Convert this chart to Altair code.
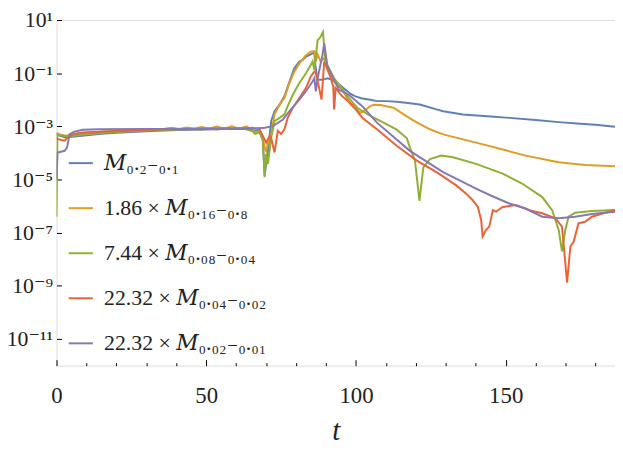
import altair as alt
import pandas as pd

# ---- legend labels and colours (Mathematica default palette) ----
labels = [
    "𝑀₀.₂₋₀.₁",
    "1.86 × 𝑀₀.₁₆₋₀.₈",
    "7.44 × 𝑀₀.₀₈₋₀.₀₄",
    "22.32 × 𝑀₀.₀₄₋₀.₀₂",
    "22.32 × 𝑀₀.₀₂₋₀.₀₁",
]
colors = ["#5E81B5", "#E19C24", "#8FB032", "#EB6235", "#8778B3"]

# ---- series: t and log10(value) ----
blue_t = [0, 1, 3, 6, 10, 15, 20, 30, 40, 50, 55, 60, 63, 65.6, 67.8, 68.9, 69.5, 70.6, 71.7, 72.8,
          74.5, 76.1, 77.8, 79.4, 81.1, 82.2, 83.3, 84.4, 85.5, 86.1, 86.4, 87.2, 88.8, 90.5, 92.1,
          93.8, 96.5, 98.2, 99.8, 102.1, 104.8, 107.0, 110.3, 113.6, 115.9, 118.0, 121.3, 126.9,
          129.1, 135.7, 145, 151.2, 160, 167.7, 175, 180, 186.5]
blue_log = [-3.30, -3.35, -3.42, -3.38, -3.33, -3.28, -3.24, -3.18, -3.14, -3.12, -3.10, -3.10, -3.10,
            -3.15, -3.17, -3.50, -4.85, -3.92, -2.80, -2.43, -2.18, -1.87, -1.31, -0.81, -0.56, -0.50,
            -0.38, -0.32, -0.25, -0.22, -0.69, -1.25, -1.25, -1.19, -1.25, -1.37, -1.62, -1.78, -1.87,
            -1.95, -2.00, -2.05, -2.05, -2.07, -2.10, -2.13, -2.18, -2.36, -2.43, -2.55, -2.63, -2.68,
            -2.76, -2.84, -2.90, -2.94, -3.01]

orange_t = [0, 1, 3, 6, 10, 15, 20, 30, 36, 38.5, 41, 43.5, 46, 48.5, 51, 53.5, 56, 58.5, 61,
            63.5, 65.6, 66.3, 67.8, 68.9, 69.5, 70.0, 70.6, 71.7, 72.8, 74.5,
            76.1, 77.8, 79.4, 81.1, 83.3, 84.9, 86.1, 86.6, 87.2, 88.2, 89.4, 90.5, 91.6, 92.7, 94.3,
            95.4, 98.2, 101.5, 102.6, 104.8, 106, 108.1, 112.5, 118, 120.3, 124.7, 129.1, 140.1, 150,
            156.7, 167.7, 176.5, 186.5]
orange_log = [-3.25, -3.30, -3.35, -3.30, -3.25, -3.20, -3.17, -3.12, -3.09, -3.05, -3.10, -3.04,
              -3.09, -3.02, -3.09, -3.01, -3.09, -3.00, -3.09, -3.00,
              -3.17, -3.25, -3.17, -3.42, -3.80, -3.92, -3.61, -3.29, -2.55, -2.18, -1.93, -1.37,
              -0.94, -0.63, -0.32, -0.19, -0.17, -0.56, -0.30, -0.56, -0.44, -0.81, -1.00, -1.31,
              -1.50, -1.60, -2.18, -2.49, -2.43, -2.24, -2.19, -2.20, -2.30, -2.70, -2.85, -3.11,
              -3.30, -3.61, -3.90, -4.10, -4.35, -4.45, -4.50]

green_t = [0, 0.3, 1, 3, 6, 10, 15, 20, 30, 40, 46, 48.5, 51, 53.5, 56, 58.5, 61, 63.5, 65.6, 66.3,
           67.8, 68.9, 69.5, 70.0, 70.6, 71.7, 72.8, 74.5, 76.1, 77.2, 78.9, 81.1, 83.3, 84.9, 85.5,
           86.1, 87.2, 88.2, 89.0, 89.7, 91.0, 92.7, 94.3, 97.6, 100.4, 104.8, 109.2, 113.6, 117.0,
           118.0, 119.7, 121.2, 122.5, 124.7, 128.5, 132.4, 140.1, 149.0, 155.6, 162.2, 165.5,
           167.7, 168.8, 169.9, 171.0, 173.2, 178.8, 186.5]
green_log = [-6.40, -3.30, -3.33, -3.36, -3.35, -3.30, -3.25, -3.21, -3.16, -3.12, -3.10, -3.13,
             -3.08, -3.12, -3.07, -3.11, -3.06, -3.10, -3.20, -3.28, -3.23, -3.54,
             -4.91, -4.04, -4.41, -3.42, -2.80, -2.68, -2.55, -2.24, -1.81, -1.37, -1.00, -0.69,
             -0.56, -0.87, 0.24, 0.37, 0.55, -0.56, -0.81, -1.19, -1.43, -1.93, -2.30, -2.61,
             -2.86, -3.12, -3.45, -3.79, -4.29, -5.80, -4.54, -4.23, -4.10, -4.16, -4.41, -4.78,
             -5.16, -5.66, -6.15, -6.90, -7.70, -6.90, -6.40, -6.25, -6.18, -6.15]

red_t = [0, 0.5, 2.7, 4.4, 6, 8.7, 14.3, 20, 30, 40, 50, 55, 60, 64.0, 65.6, 67.8, 68.9, 70.0, 71.2,
         71.7, 72.8, 73.9, 75.0, 76.1, 77.2, 78.9, 81.1, 83.3, 84.9, 86.1, 86.6, 87.7, 88.5, 89.4,
         90.5, 91.6, 92.4, 92.7, 93.2, 95.4, 98.7, 102.1, 107.0, 113.6, 120.3, 126.9, 133.5, 136.8,
         139.0, 140.7, 141.8, 142.3, 143.4, 144.5, 145.7, 146.8, 149.0, 153.4, 157.8, 162.2, 166.6,
         168.8, 170.5, 171.6, 172.7, 174.3, 176.5, 178.8, 183.2, 186.5]
red_log = [-3.45, -3.48, -3.54, -3.35, -3.29, -3.23, -3.20, -3.17, -3.13, -3.10, -3.08, -3.07, -3.07,
           -3.07, -3.05, -3.11, -3.36, -3.61, -3.36, -3.45, -3.98, -3.17, -3.29, -3.11, -2.68, -2.30,
           -1.93, -1.56, -1.12, -0.94, -1.00, -1.56, -1.99, -0.56, -0.87, -1.19, -1.50, -2.36, -1.56,
           -1.87, -2.18, -2.68, -3.11, -3.73, -4.29, -4.72, -5.22, -5.53, -5.78, -6.03, -6.52, -7.14,
           -6.90, -6.77, -6.15, -6.21, -6.03, -5.96, -6.15, -6.27, -6.46, -6.77, -8.88, -7.52, -7.33,
           -6.65, -6.59, -6.40, -6.25, -6.15]

purple_t = [0, 0.3, 0.5, 2.7, 3.5, 4.4, 6.0, 8.7, 14.3, 30, 50, 64, 66, 69.5, 72.3, 75.6, 77.8, 81.1,
            83.3, 85.5, 86.1, 86.6, 87.2, 88.8, 89.4, 90.5, 92.1, 94.3, 97.6, 102.1, 107.0, 118.0,
            129.1, 140.1, 145, 151.2, 156.7, 162.2, 167.7, 173.2, 178.8, 186.5]
purple_log = [-5.00, -4.00, -3.98, -3.92, -3.80, -3.29, -3.20, -3.13, -3.11, -3.10, -3.10, -3.10,
              -3.08, -3.05, -2.99, -2.74, -2.43, -1.99, -1.68, -1.31, -1.19, -1.68, -1.19, -0.32,
              0.12, -0.75, -1.12, -1.62, -1.81, -2.24, -2.86, -3.92, -4.72, -5.34, -5.60, -5.90,
              -6.09, -6.40, -6.46, -6.40, -6.30, -6.21]

# ---- axis ticks ----
x_ticks = [0, 10, 20, 30, 40, 50, 60, 70, 80, 90, 100, 110, 120, 130, 140, 150, 160, 170, 180]
y_ticks = [1e1, 1e-1, 1e-3, 1e-5, 1e-7, 1e-9, 1e-11]
superscripts = ["⁻¹¹", "⁻¹⁰", "⁻⁹", "⁻⁸", "⁻⁷", "⁻⁶", "⁻⁵", "⁻⁴", "⁻³", "⁻²", "⁻¹", "⁰", "¹"]

frames = []
for lab, ts, ls in zip(labels,
                       [blue_t, orange_t, green_t, red_t, purple_t],
                       [blue_log, orange_log, green_log, red_log, purple_log]):
    frames.append(pd.DataFrame({
        "t": ts,
        "M": [10.0 ** v for v in ls],
        "series": lab,
        "k": list(range(len(ts))),
    }))
df = pd.concat(frames, ignore_index=True)

FONT = "Liberation Serif, DejaVu Serif, serif"
sup_js = "[" + ",".join("'" + s + "'" for s in superscripts) + "]"

chart = alt.Chart(df).mark_line(strokeWidth=2, clip=True).encode(
    x=alt.X("t:Q",
            scale=alt.Scale(domain=[0, 186.5], nice=False, zero=False),
            axis=alt.Axis(values=x_ticks, title="t", offset=-6, tickSize=6, domain=False,
                          grid=False, labelFlush=False, labelOverlap=False,
                          labelExpr="datum.value % 50 === 0 ? datum.label : ''",
                          tickDash={"condition": {"test": "datum.value % 50 !== 0",
                                                  "value": [0, 3, 3, 20]},
                                    "value": [20, 0]},
                          labelPadding=19, labelFontSize=23, labelFont=FONT,
                          labelColor="#222222", tickColor="black", tickWidth=1,
                          titleFont=FONT, titleFontSize=29, titleFontStyle="italic",
                          titleFontWeight="normal", titleColor="#222222", titlePadding=10)),
    y=alt.Y("M:Q",
            scale=alt.Scale(type="log", domain=[1e-12, 1e1], nice=False),
            axis=alt.Axis(values=y_ticks, title=None, offset=-5, tickSize=5, domain=False,
                          grid=False, labelFlush=False, labelOverlap=False,
                          labelExpr="'10' + " + sup_js + "[round(log(datum.value) / LN10) + 11]",
                          labelPadding=4, labelFontSize=22, labelFont=FONT,
                          labelColor="#222222", tickColor="black", tickWidth=1)),
    color=alt.Color("series:N",
                    scale=alt.Scale(domain=labels, range=colors),
                    sort=labels,
                    legend=alt.Legend(title=None, orient="none", legendX=11, legendY=131,
                                      symbolType="stroke", symbolSize=595,
                                      symbolStrokeWidth=2, labelFont=FONT, labelFontSize=22,
                                      labelColor="#222222", labelOffset=10, rowPadding=20.5,
                                      padding=0, labelLimit=400)),
    order=alt.Order("k:Q"),
).properties(
    width=564,
    height=349,
    autosize=alt.AutoSizeParams(type="none"),
    padding={"left": 49, "top": 10, "right": 0, "bottom": 78},
).configure_view(
    stroke="black", strokeWidth=1.3
).configure(
    font=FONT
)

chart.save("out.html", embed_options={"renderer": "svg", "actions": False})
